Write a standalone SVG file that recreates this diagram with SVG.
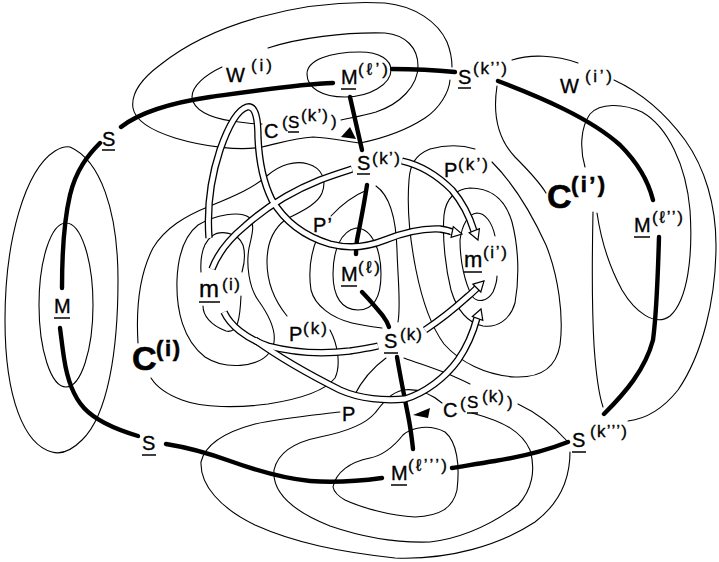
<svg xmlns="http://www.w3.org/2000/svg" width="719" height="562" viewBox="0 0 719 562">
<style>
.c{fill:none;stroke:#000;stroke-width:1.1;stroke-linecap:round}
.r{fill:none;stroke:#000;stroke-width:4.4;stroke-linecap:round;stroke-linejoin:round}
.tb{fill:none;stroke:#000;stroke-width:7.4}
.tw{fill:none;stroke:#fff;stroke-width:4.8}
.ah{fill:#fff;stroke:#000;stroke-width:1.2;stroke-linejoin:miter}
.fa{fill:#000;stroke:none}
.u{stroke:#000;stroke-width:1.5}
text{font-family:"Liberation Sans","DejaVu Sans",Arial,sans-serif;fill:#000;stroke:#000;stroke-width:0.35}
.l{font-size:20px}
.s{font-size:17px}
.b{font-weight:bold;stroke-width:0.6}
</style>
<rect width="719" height="562" fill="#fff"/>

<!-- level lines of the surface -->
<g id="contours" class="c">
  <!-- around M(l') -->
  <path d="M307,74 C307,60 330,52 360,52 C380,52 391,60 391,70 C391,84 370,97 345,97 C322,97 307,88 307,74 Z"/>
  <path d="M268,48 C298,38 345,32 385,33 C406,35 418,48 418,66 C418,86 400,104 376,112 C362,116 350,118 341,120"/>
  <path d="M222,67 C205,75 192,86 192,97 C193,110 210,118 232,121 C245,123 255,124 262,124"/>
  <path d="M450,80 C449,92 440,108 425,118 C405,131 385,138 360,143 C345,141 330,138 313,137 C295,138 280,143 262,147 C240,151 205,147 175,138 C150,130 135,120 133,108 C131,95 140,80 160,65 C185,45 220,28 260,17 C300,6 345,1 385,3 C415,6 438,22 447,42 C451,52 452,60 452,67"/>
  <!-- around M(l'') -->
  <path d="M512,60 C530,54 556,55 578,63"/>
  <path d="M614,80 C640,92 665,113 685,140 C705,168 716,205 716,245 C716,300 702,355 678,390 C662,410 645,419 628,421"/>
  <path d="M585,167 C580,150 580,128 590,114 C600,103 622,103 642,112 C668,127 686,165 690,210 C693,255 688,300 670,316 C655,327 635,312 622,290 C610,268 601,240 597,213"/>
  <path d="M497,86 C493,112 497,138 515,157 C530,172 540,183 546,193"/>
  <path d="M593,212 C592,260 592,310 594,345 C596,375 599,395 603,407"/>
  <!-- around m(i') -->
  <path d="M492,162 C510,180 530,210 546,245 C558,275 564,315 560,345 C556,368 540,378 515,377 C485,375 460,362 444,344 C430,325 422,300 416,270 C410,240 407,205 409,180 C410,165 415,155 430,149 C445,145 462,145 475,149"/>
  <path d="M470,188 C490,188 505,198 512,222 C518,245 520,275 515,303 C510,320 497,328 483,326 C468,323 457,310 451,290 C446,270 442,240 444,215 C446,198 456,189 470,188 Z"/>
  <path d="M495,236 C492,222 485,213 477,213 C468,214 462,225 460,240 C460,262 465,283 472,296 C477,303 487,302 493,292 C496,285 497,280 497,276"/>
  <!-- around M(l) -->
  <path d="M356,228 C341,231 333,250 333,274 C333,297 342,310 358,310 C374,310 381,296 381,274 C381,250 372,228 356,228 Z"/>
  <path d="M367,190 C355,195 342,204 331,216 M318,236 C311,252 308,270 311,290 C315,306 332,318 352,323 C365,326 374,327 382,328"/>
  <path d="M376,186 C389,195 396,215 397,250 C398,282 401,305 398,322"/>
  <!-- around m(i) -->
  <path d="M241,296 C240,318 238,334 226,331 C210,325 203,315 203,306 M201,272 C200,255 203,243 212,236 C220,230 238,232 243,245 C246,255 244,265 242,272"/>
  <path d="M177,280 C176,310 183,340 205,357 C225,370 258,368 270,352 C280,338 271,318 258,300 C249,287 246,265 249,248 C252,235 255,225 250,218 C240,210 215,215 198,225 C184,236 178,255 177,280 Z"/>
  <path d="M330,330 C338,345 341,365 335,378 C325,391 300,399 268,404 C238,408 203,408 182,400 C166,394 156,386 151,378 M138,343 C136,310 139,275 153,248 C165,228 185,216 210,206 C235,196 255,187 268,175 C280,165 295,160 308,164 C322,168 327,180 322,193 C317,205 300,212 285,220 C272,230 267,245 267,262 C267,283 274,300 287,316"/>
  <!-- around M (left) -->
  <ellipse cx="66" cy="305" rx="27" ry="82"/>
  <path d="M70,147 C100,160 118,210 118,280 C118,350 108,415 82,440 C72,450 62,455 52,452 C25,445 5,400 5,320 C5,240 25,170 55,151 C60,148 65,146 70,147 Z"/>
  <!-- around M(l''') -->
  <path d="M333,487 C336,472 350,462 370,458 C385,455 395,445 403,435 C412,427 430,424 445,432 C457,442 460,465 457,490 C453,508 440,516 415,517 C390,516 360,507 345,500 C338,496 334,492 333,487 Z"/>
  <path d="M442,403 C430,393 418,388 403,390 C390,393 383,403 375,413 C365,425 345,432 320,437 C295,442 278,452 274,470 C272,492 290,510 330,526 C365,538 400,543 430,542 C465,538 495,522 518,505 C532,490 536,470 530,450 C522,432 505,422 472,413"/>
  <path d="M386,358 C375,366 362,380 354,396 M340,412 C315,415 280,418 255,424 C225,432 205,445 201,462 C200,485 220,508 255,525 C295,543 340,552 395,558 C450,560 500,545 535,522 C560,503 570,478 570,452"/>
  <path d="M404,358 C420,364 440,370 455,377 C462,380 466,382 470,384 M518,404 C535,412 552,424 567,441"/>
</g>

<!-- ridge lines and reaction channels -->
<g id="connectors">
  <g class="r">
    <path d="M121,127 C140,112 170,103 210,97 C260,90 300,84 333,83"/>
    <path d="M392,69 C410,69 435,70 455,72"/>
    <path d="M498,81 C540,97 590,118 620,145 C638,163 648,180 653,200"/>
    <path d="M659,237 C658,270 657,310 653,340 C645,370 625,393 604,414"/>
    <path d="M568,442 C545,451 520,457 495,461 C475,464 460,467 452,468"/>
    <path d="M382,478 C360,481 335,483 310,481 C280,478 255,470 230,461 C205,452 185,447 166,444"/>
    <path d="M138,436 C118,430 96,421 84,408 C72,395 67,378 64,358 C62,345 61,335 60,328"/>
    <path d="M62,288 C62,260 63,225 70,195 C76,170 88,155 100,143"/>
    <path d="M350,97 L362,150"/>
    <path d="M367,185 C364,205 360,225 357,240 C356,246 356,250 356,254"/>
    <path d="M362,292 C370,300 378,310 383,316 C386,320 388,324 389,327"/>
    <path d="M397,357 C400,375 404,395 408,415 C411,430 412,440 413,449"/>
  </g>
  <g class="tb">
    <path d="M209,238 C207,210 210,180 220,150 C228,127 237,110 247,107 C256,105 258,120 258,138 C259,160 262,180 272,200 C285,222 303,236 330,244 C345,248 365,248 385,240 C400,234 420,228 440,229 C446,230 450,231 452,232"/>
    <path d="M212,269 C218,253 228,240 245,226 C265,208 290,192 320,180 C333,175 343,172 352,169"/>
    <path d="M402,161 C420,165 437,175 452,190 C463,203 470,218 474,231"/>
    <path d="M224,312 C230,325 245,338 268,346 C295,353 325,354 350,351 C362,349 370,348 378,346"/>
    <path d="M425,330 C440,320 455,308 466,298 C471,294 474,291 477,288"/>
    <path d="M255,340 C280,358 310,375 340,390 C360,399 385,401 405,399 C425,393 445,378 458,360 C467,347 473,333 477,318"/>
  </g>
  <g class="tw">
    <path d="M209,238 C207,210 210,180 220,150 C228,127 237,110 247,107 C256,105 258,120 258,138 C259,160 262,180 272,200 C285,222 303,236 330,244 C345,248 365,248 385,240 C400,234 420,228 440,229 C446,230 450,231 452,232"/>
    <path d="M212,269 C218,253 228,240 245,226 C265,208 290,192 320,180 C333,175 343,172 352,169"/>
    <path d="M402,161 C420,165 437,175 452,190 C463,203 470,218 474,231"/>
    <path d="M224,312 C230,325 245,338 268,346 C295,353 325,354 350,351 C362,349 370,348 378,346"/>
    <path d="M425,330 C440,320 455,308 466,298 C471,294 474,291 477,288"/>
    <path d="M255,340 C280,358 310,375 340,390 C360,399 385,401 405,399 C425,393 445,378 458,360 C467,347 473,333 477,318"/>
  </g>
  <polygon class="ah" points="453.3,226.6 462,234 451.1,237.4"/>
  <polygon class="ah" points="469.2,232.7 478,240 479.4,228.7"/>
  <polygon class="ah" points="473,284.2 484,281 480.8,292"/>
  <polygon class="ah" points="472.4,316.5 481,309 482.8,320.3"/>
  <polygon class="fa" points="341,137 356,139 350,127"/>
  <polygon class="fa" points="413,415 430,408 428,418"/>
</g>

<!-- labels of critical points and regions -->
<g id="W-i"><text class="l" x="226" y="82" font-size="22">W</text><text class="s" x="251" y="71" textLength="21">(i)</text></g>
<g id="M-l1"><text class="l" x="341" y="84" font-size="19">M</text><line class="u" x1="341" y1="89" x2="356" y2="89"/><text class="s" x="358" y="75" textLength="30">(ℓ’)</text></g>
<g id="S-k2"><text class="l" x="458" y="84">S</text><line class="u" x1="458" y1="88" x2="471" y2="88"/><text class="s" x="473" y="74" textLength="34">(k’’)</text></g>
<g id="W-i1"><text class="l" x="560" y="93" font-size="22">W</text><text class="s" x="585" y="82" textLength="27">(i’)</text></g>
<g id="S-top"><text class="l" x="102" y="146">S</text><line class="u" x1="102" y1="150" x2="115" y2="150"/></g>
<g id="C-S-k1"><text class="l" x="264" y="138">C</text><text class="s" x="282" y="128">(</text><text class="s" x="288" y="128">S</text><line class="u" x1="288" y1="132" x2="299" y2="132"/><text class="s" x="301" y="121" textLength="27">(k’)</text><text class="s" x="331" y="127">)</text></g>
<g id="S-k1"><text class="l" x="357" y="170">S</text><line class="u" x1="357" y1="174" x2="370" y2="174"/><text class="s" x="372" y="164" textLength="28">(k’)</text></g>
<g id="P-k1"><text class="l" x="444" y="177">P</text><text class="s" x="458" y="170" textLength="30">(k’)</text></g>
<g id="C-i1"><text class="b" x="547" y="208" font-size="34" textLength="22">C</text><text class="b" x="571" y="192" font-size="22" textLength="34">(i’)</text></g>
<g id="P-prime"><text class="l" x="313" y="232" textLength="19">P’</text></g>
<g id="M-l2"><text class="l" x="634" y="232" font-size="19">M</text><line class="u" x1="634" y1="237" x2="650" y2="237"/><text class="s" x="652" y="223" textLength="31">(ℓ’’)</text></g>
<g id="m-i"><text x="199" y="297" font-size="24" textLength="21">m</text><line class="u" x1="199" y1="302" x2="220" y2="302"/><text class="s" x="222" y="290" textLength="18">(i)</text></g>
<g id="M-l"><text class="l" x="341" y="281" font-size="19">M</text><line class="u" x1="341" y1="286" x2="357" y2="286"/><text class="s" x="358" y="273" textLength="22">(ℓ)</text></g>
<g id="m-i1"><text x="464" y="267" font-size="22" textLength="18">m</text><line class="u" x1="464" y1="272" x2="482" y2="272"/><text class="s" x="483" y="258" textLength="24">(i’)</text></g>
<g id="M-left"><text class="l" x="54" y="313" font-size="19">M</text><line class="u" x1="54" y1="318" x2="70" y2="318"/></g>
<g id="P-k"><text class="l" x="289" y="341">P</text><text class="s" x="303" y="334" textLength="24">(k)</text></g>
<g id="S-k"><text class="l" x="384" y="348">S</text><line class="u" x1="384" y1="353" x2="398" y2="353"/><text class="s" x="400" y="340" textLength="22">(k)</text></g>
<g id="C-i"><text class="b" x="132" y="370" font-size="34" textLength="22">C</text><text class="b" x="156" y="356" font-size="22" textLength="24">(i)</text></g>
<g id="C-S-k"><text class="l" x="443" y="417">C</text><text class="s" x="460" y="409">(</text><text class="s" x="467" y="408">S</text><line class="u" x1="467" y1="413" x2="478" y2="413"/><text class="s" x="482" y="402" textLength="22">(k)</text><text class="s" x="507" y="408">)</text></g>
<g id="P"><text class="l" x="342" y="421">P</text></g>
<g id="S-bottom"><text class="l" x="142" y="450">S</text><line class="u" x1="142" y1="455" x2="156" y2="455"/></g>
<g id="S-k3"><text class="l" x="572" y="447">S</text><line class="u" x1="572" y1="452" x2="586" y2="452"/><text class="s" x="590" y="437" textLength="37">(k’’’)</text></g>
<g id="M-l3"><text class="l" x="391" y="480" font-size="19">M</text><line class="u" x1="391" y1="485" x2="407" y2="485"/><text class="s" x="408" y="471" textLength="39">(ℓ’’’)</text></g>
</svg>
